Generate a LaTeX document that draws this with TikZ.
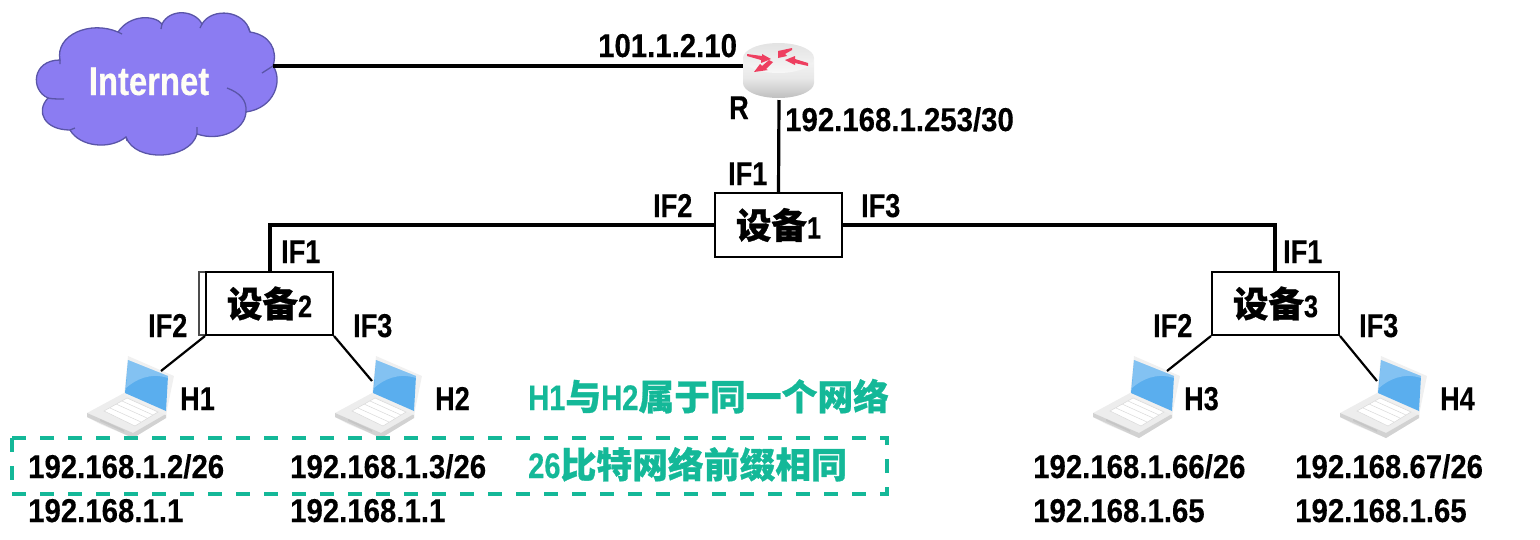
\documentclass[tikz,border=0pt]{standalone}
\usepackage{fontspec}
\setmainfont{Liberation Sans}
\newfontfamily\ipfont[FakeStretch=0.89,BoldFeatures={FakeBold=0.3}]{Liberation Sans}
\newfontfamily\iffont[FakeStretch=0.82,BoldFeatures={FakeBold=0.3}]{Liberation Sans}
\newfontfamily\cjk[BoldFeatures={FakeBold=0.8}]{Noto Sans CJK SC}
\newcommand{\ipf}{\fontsize{33}{33}\selectfont\ipfont\bfseries}
\newcommand{\ifs}{\fontsize{33}{33}\selectfont\iffont\bfseries}
\newcommand{\latg}{\fontsize{35.5}{35.5}\selectfont\iffont\bfseries}
\newcommand{\cjkg}{\fontsize{35.8}{35.8}\selectfont\cjk\bfseries}
\newcommand{\devlabel}[1]{{\fontsize{35.5}{35.5}\selectfont\cjk\bfseries 设备}{\fontsize{31}{31}\selectfont\iffont\bfseries #1}}
\definecolor{tealg}{HTML}{14B898}
\definecolor{cloudf}{HTML}{8B7CF2}
\definecolor{cloudd}{HTML}{5A55A8}
\definecolor{scr}{HTML}{5AAEEE}
\definecolor{arrowred}{HTML}{EE3F60}
\tikzset{
  wire/.style={line width=3.2pt,black},
  thinwire/.style={line width=2.2pt,black},
  devbox/.style={draw=black,line width=2pt,fill=white,inner sep=0pt,anchor=center},
  iplabel/.style={anchor=base west,inner sep=0pt,font=\ipf},
  iflabel/.style={anchor=base west,inner sep=0pt,font=\ifs},
  laptop/.pic={
    % base
    \fill[gray!14] (87,413) -- (124,393) -- (166,412) -- (166,418) -- (133,438) -- (100,424) -- (87,417) -- cycle;
    \fill[gray!35] (87,417) -- (133,438) -- (166,418) -- (166,414) -- (133,433) -- (87,413) -- cycle;
    \fill[white] (104,411) -- (127,398) -- (158,412) -- (135,426) -- cycle;
    \draw[gray!30,line width=.5pt] (104,411) -- (127,398) -- (158,412) -- (135,426) -- cycle
       (110,408) -- (141,422) (116,404) -- (147,418) (122,401) -- (153,415);
    \fill[gray!45] (100,419) -- (124,430) -- (124,432) -- (100,421) -- cycle;
    % lid
    \fill[gray!12] (128,356) -- (174,376) -- (166,415) -- (124,395) -- cycle;
    \fill[scr] (128,360) -- (168,376) -- (166,411) -- (125,393) -- cycle;
    \fill[white,opacity=.25] (128,360) -- (168,376) -- (168,378) .. controls (150,372) and (135,380) .. (126,388) -- cycle;
    \coordinate (-top) at (161,371);
    \coordinate (-left) at (124,381);
  },
  redarrow/.style={draw=none,fill=arrowred}
}
\begin{document}
\begin{tikzpicture}[x=1pt,y=-1pt]
\useasboundingbox (0,0) rectangle (1540,539);
% cloud
\path[fill=cloudf,draw=cloudd,line width=1.3pt]
  (60,60) .. controls (55,35) and (90,20) .. (118,32)
  .. controls (130,14) and (155,15) .. (162,24)
  .. controls (170,8) and (195,10) .. (202,24)
  .. controls (212,7) and (245,10) .. (250,32)
  .. controls (270,35) and (278,50) .. (273,66)
  .. controls (283,80) and (275,108) .. (246,112)
  .. controls (245,130) and (220,142) .. (197,134)
  .. controls (190,160) and (135,163) .. (126,137)
  .. controls (110,150) and (80,147) .. (70,130)
  .. controls (45,130) and (35,112) .. (48,98)
  .. controls (30,90) and (32,60) .. (60,60) -- cycle;
\draw[cloudd,line width=1.3pt]
  (60,64) -- (60,60)
  (48,98) .. controls (52,99) and (58,99) .. (64,99)
  (70,130) -- (75,128)
  (126,137) -- (127,141)
  (197,134) -- (197,127)
  (246,112) .. controls (247,100) and (240,93) .. (227,88)
  (273,66) -- (262,73)
  (250,32) -- (248,27)
  (202,24) -- (200,28)
  (162,24) -- (161,29)
  (118,32) -- (122,34);
\node[inner sep=0pt,anchor=base,font=\fontsize{40}{40}\selectfont\iffont\bfseries,text=white!96!yellow] (cloud) at (149,95) {Internet};
\coordinate (cloudport) at (273,66);
% router
\shade[top color=gray!8,bottom color=gray!50,middle color=gray!18] (743,58) -- (743,83) arc[start angle=180,end angle=0,x radius=35.5,y radius=15] -- (814,58) -- cycle;
\shade[top color=gray!22,bottom color=white!94!gray] (778.5,58) ellipse[x radius=35.5,y radius=15];
\node[inner sep=0pt,minimum size=0pt] (router) at (778.5,70) {};
\coordinate (routerL) at (743,66);
\coordinate (routerB) at (779,100);
\fill[redarrow] (747,54) -- (762,56) -- (762,54) -- (771,59) -- (761,63) -- (761,60) -- (747,56) -- cycle;
\fill[redarrow] (778,51) -- (792,48) -- (792,50) -- (785,54) -- (787,56) -- (778,58) -- (778,55) -- cycle;
\fill[redarrow] (808,66) -- (795,63) -- (795,65) -- (785,60) -- (795,56) -- (795,59) -- (808,63) -- cycle;
\fill[redarrow] (773,62) -- (766,69) -- (768,70) -- (754,72) -- (760,64) -- (762,66) -- (769,60) -- cycle;
% devices
\node[devbox,minimum width=127pt,minimum height=64pt] (d1) at (778.5,225) {\devlabel{1}};
\draw[line width=1.2pt,black!70] (199,272) rectangle (215,335);
\node[devbox,minimum width=127pt,minimum height=63pt] (d2) at (269.5,303.5) {\devlabel{2}};
\node[devbox,minimum width=127pt,minimum height=63pt] (d3) at (1275.5,303.5) {\devlabel{3}};
\coordinate (d2in) at (270,272);
\coordinate (d3in) at (1275,272);
% hosts
\pic (h1) at (0,0) {laptop};
\pic (h2) at (248,0) {laptop};
\pic (h3) at (1006,0) {laptop};
\pic (h4) at (1253,0) {laptop};
% connectors
\draw[wire] (cloudport) -- (routerL);
\draw[wire] (routerB) -- (d1.north);
\draw[wire] (d1.west) -| (d2in);
\draw[wire] (d1.east) -| (d3in);
\draw[thinwire] (d2.south west) -- (h1-top);
\draw[thinwire] (d2.south east) -- (h2-left);
\draw[thinwire] (d3.south west) -- (h3-top);
\draw[thinwire] (d3.south east) -- (h4-left);
% labels
\node[iplabel] (a1) at (598,57) {101.1.2.10};
\node[iflabel] (rl) at (729,119) {R};
\node[iplabel] (a2) at (785,131) {192.168.1.253/30};
\node[iflabel] (i1) at (728,185) {IF1};
\node[iflabel] (i2) at (653,217) {IF2};
\node[iflabel] (i3) at (861,217) {IF3};
\node[iflabel] (i4) at (281,263) {IF1};
\node[iflabel] (i5) at (148,337) {IF2};
\node[iflabel] (i6) at (353,337) {IF3};
\node[iflabel] (i7) at (1283,263) {IF1};
\node[iflabel] (i8) at (1153,337) {IF2};
\node[iflabel] (i9) at (1359,337) {IF3};
\node[iflabel] (n1) at (180,410) {H1};
\node[iflabel] (n2) at (435,410) {H2};
\node[iflabel] (n3) at (1184,410) {H3};
\node[iflabel] (n4) at (1440,410) {H4};
\node[iplabel] (p1) at (28,478) {192.168.1.2/26};
\node[iplabel] (p2) at (290,478) {192.168.1.3/26};
\node[iplabel] (p3) at (1033,478) {192.168.1.66/26};
\node[iplabel] (p4) at (1295,478) {192.168.67/26};
\node[iplabel] (g1) at (28,522) {192.168.1.1};
\node[iplabel] (g2) at (290,522) {192.168.1.1};
\node[iplabel] (g3) at (1033,522) {192.168.1.65};
\node[iplabel] (g4) at (1295,522) {192.168.1.65};
% green
\draw[tealg,line width=3.4pt,dash pattern=on 14pt off 14pt] (12,438) rectangle (887,494);
\node[anchor=base west,inner sep=0pt,text=tealg] (t1) at (528,410) {{\latg H1}{\cjkg 与}{\latg H2}{\cjkg 属于同一个网络}};
\node[anchor=base west,inner sep=0pt,text=tealg] (t2) at (528,478) {{\latg 26}{\cjkg 比特网络前缀相同}};
\end{tikzpicture}
\end{document}
